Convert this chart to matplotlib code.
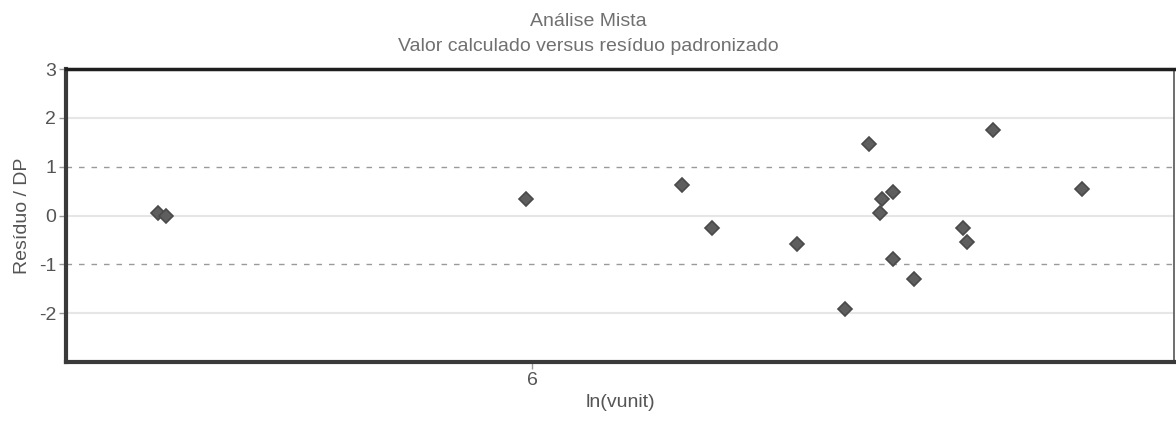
import matplotlib
matplotlib.use("Agg")
import matplotlib.pyplot as plt

# valor calculado (ln(vunit)) e residuo padronizado
ln_vunit = [4.394, 4.429, 5.974, 6.642, 6.774, 7.136, 7.343, 7.446, 7.494, 7.501,
            7.548, 7.548, 7.639, 7.851, 7.868, 7.980, 8.362]
residuo_dp = [0.06, 0.00, 0.33, 0.63, -0.25, -0.58, -1.92, 1.46, 0.05, 0.34,
              0.48, -0.89, -1.29, -0.25, -0.55, 1.75, 0.54]

y_ticks = [3, 2, 1, 0, -1, -2]
x_ticks = [6]

plt.rcParams['font.family'] = ['Liberation Sans', 'DejaVu Sans']
plt.rcParams['axes.unicode_minus'] = False

fig = plt.figure(figsize=(11.76, 4.21), dpi=100)
ax = fig.add_axes([0.0561, 0.1401, 0.9422, 0.696])

# linhas de referencia
for v in [2, 0, -2]:
    ax.axhline(v, color='#e6e6e6', lw=1.5, zorder=1)
for v in [1, -1]:
    ax.axhline(v, color='#9a9a9a', lw=1.0, ls=(0, (4, 5)), zorder=1)

ax.plot(ln_vunit, residuo_dp, ls='none', marker='D', markersize=7,
        color='#5e5e5e', markeredgecolor='#4a4a4a', markeredgewidth=1.2,
        zorder=3)

ax.set_xlim(4.0, 8.755)
ax.set_ylim(-3, 3)
ax.set_yticks(y_ticks)
ax.set_xticks(x_ticks)

for s in ['left', 'bottom']:
    ax.spines[s].set_linewidth(3)
    ax.spines[s].set_color('#3a3a3a')
ax.spines['right'].set_linewidth(1.2)
ax.spines['right'].set_color('#555555')
# borda superior tracejada sobre linha cinza
ax.axhline(3, color='#8a8a8a', lw=2.2, zorder=4, clip_on=False)
ax.spines['top'].set_linewidth(2.5)
ax.spines['top'].set_color('#1e1e1e')
ax.spines['top'].set_linestyle((0, (1.2, 1.0)))
ax.spines['top'].set_zorder(5)

ax.tick_params(axis='both', colors='#9a9a9a', labelcolor='#555555',
               labelsize=14, length=5, width=1, pad=2)

ax.set_ylabel('Resíduo / DP', color='#555555', fontsize=14, labelpad=6)
ax.set_xlabel('ln(vunit)', color='#555555', fontsize=14, labelpad=4)

fig.text(0.5, 0.949, 'Análise Mista', ha='center', va='center',
         color='#707070', fontsize=14)
fig.text(0.5, 0.890, 'Valor calculado versus resíduo padronizado', ha='center',
         va='center', color='#707070', fontsize=14)

fig.savefig('out.png', dpi=100)
